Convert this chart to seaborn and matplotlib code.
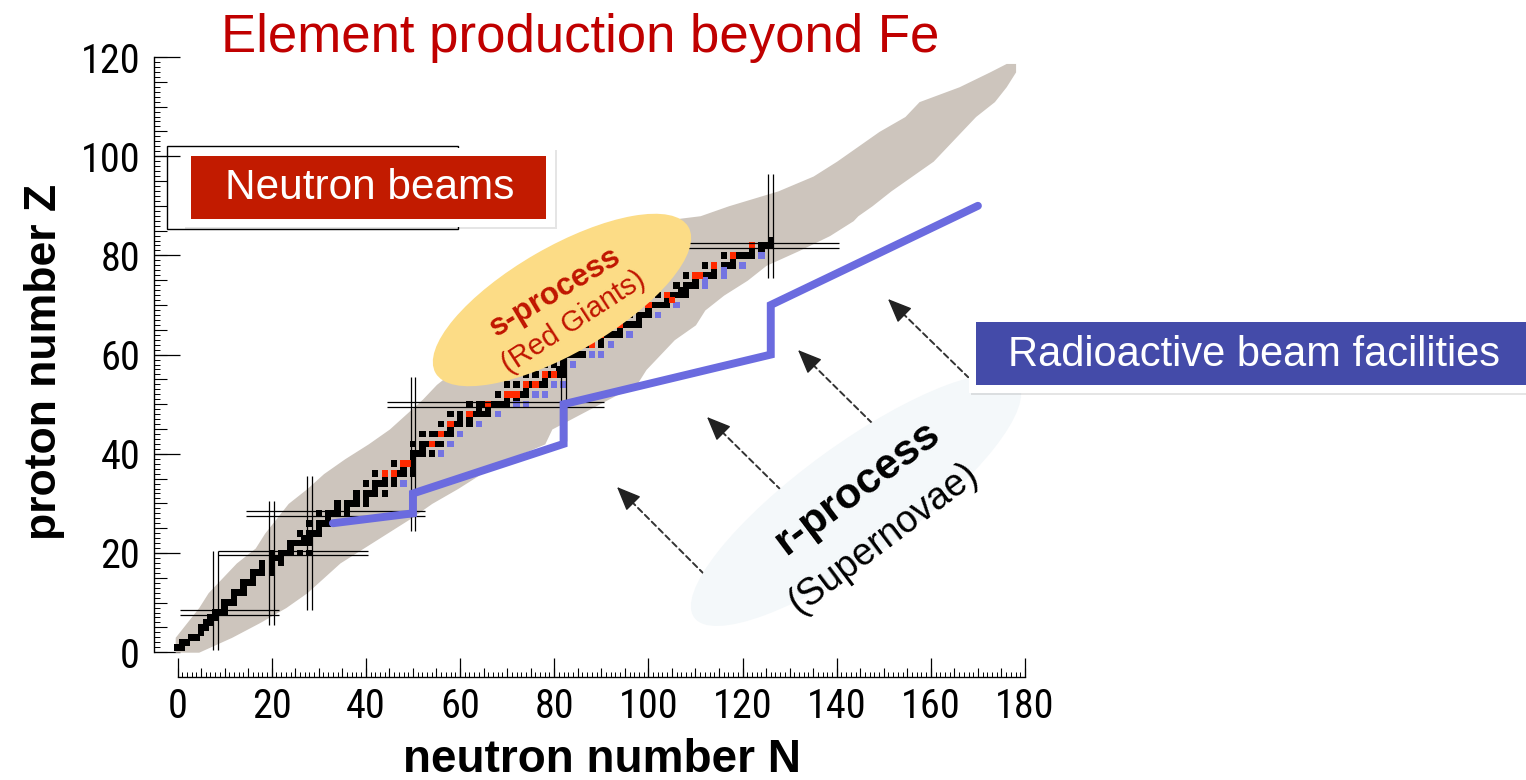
import numpy as np
import matplotlib
matplotlib.use("Agg")
import matplotlib.pyplot as plt
import seaborn as sns
from matplotlib import font_manager as fm
from matplotlib.patches import Rectangle, Ellipse
from matplotlib.transforms import Affine2D
from matplotlib.ticker import FixedLocator

# ---------------- data ----------------
BAND_Z = [0, 3, 6, 9, 12, 15, 18, 21, 24, 27, 30, 33, 36, 39, 42, 45, 48, 51, 54, 57,
          60, 63, 66, 69, 72, 75, 78, 81, 84, 87, 88, 90, 93, 96, 99, 102, 105, 108,
          111, 114, 117, 118.7]
BAND_N_MIN = [-0.5, -0.5, 2, 4.5, 6.5, 9.5, 12.5, 16.5, 18.5, 21, 23.5, 27.5, 31, 35.5,
              40.5, 45, 48.5, 52, 55, 59, 63, 67, 72, 77, 82, 87, 92, 97, 100, 102.5,
              111, 117, 127.5, 135, 140, 144.5, 149, 154.5, 157.5, 166, 172.5, 176]
BAND_N_MAX = [4.5, 11.5, 17.5, 23, 27.5, 31, 34.5, 39.5, 44.5, 49.5, 54, 59.5, 64.5, 70.5,
              78, 79.5, 85.5, 91.5, 97.5, 99.5, 102.5, 105.5, 110, 112, 116, 121, 125,
              132, 138.5, 143.5, 144.5, 147.5, 151.5, 156, 160.5, 163.5, 166.5, 169.5,
              173.5, 176, 178, 178]

STABLE = [
    (1, [0, 1]), (2, [1, 2]), (3, [3, 4]), (4, [5]), (5, [5, 6]), (6, [6, 7]), (7, [7, 8]),
    (8, [8, 9, 10]), (9, [10]), (10, [10, 11, 12]), (11, [12]), (12, [12, 13, 14]),
    (13, [14]), (14, [14, 15, 16]), (15, [16]), (16, [16, 17, 18, 20]), (17, [18, 20]),
    (18, [18, 20, 22]), (19, [20, 21, 22]), (20, [20, 22, 23, 24, 26, 28]), (21, [24]),
    (22, [24, 25, 26, 27, 28]), (23, [27, 28]), (24, [26, 28, 29, 30]), (25, [30]),
    (26, [28, 30, 31, 32]), (27, [32]), (28, [30, 32, 33, 34, 36]), (29, [34, 36]),
    (30, [34, 36, 37, 38, 40]), (31, [38, 40]), (32, [38, 40, 41, 42, 44]), (33, [42]),
    (34, [40, 42, 43, 44, 46, 48]), (35, [44, 46]), (36, [42, 44, 46, 47, 48, 50]),
    (37, [48, 50]), (38, [46, 48, 49, 50]), (39, [50]), (40, [50, 51, 52, 54, 56]),
    (41, [52]), (42, [50, 52, 53, 54, 55, 56, 58]), (44, [52, 54, 55, 56, 57, 58, 60]),
    (45, [58]), (46, [56, 58, 59, 60, 62, 64]), (47, [60, 62]),
    (48, [58, 60, 62, 63, 64, 65, 66, 68]), (49, [64, 66]),
    (50, [62, 64, 65, 66, 67, 68, 69, 70, 72, 74]), (51, [70, 72]),
    (52, [68, 70, 71, 72, 73, 74, 76, 78]), (53, [74]),
    (54, [70, 72, 74, 75, 76, 77, 78, 80, 82]), (55, [78]),
    (56, [74, 76, 78, 79, 80, 81, 82]), (57, [81, 82]), (58, [78, 80, 82, 84]), (59, [82]),
    (60, [82, 83, 84, 85, 86, 88, 90]), (62, [82, 85, 86, 87, 88, 90, 92]), (63, [88, 90]),
    (64, [88, 90, 91, 92, 93, 94, 96]), (65, [94]), (66, [90, 92, 94, 95, 96, 97, 98]),
    (67, [98]), (68, [94, 96, 98, 99, 100, 102]), (69, [100]),
    (70, [98, 100, 101, 102, 103, 104, 106]), (71, [104, 105]),
    (72, [102, 104, 105, 106, 107, 108]), (73, [107, 108]), (74, [106, 108, 109, 110, 112]),
    (75, [110, 112]), (76, [108, 110, 111, 112, 113, 114, 116]), (77, [114, 116]),
    (78, [112, 114, 116, 117, 118, 120]), (79, [118]),
    (80, [116, 118, 119, 120, 121, 122, 124]), (81, [122, 124]), (82, [122, 124, 125, 126]),
    (83, [126]),
]
S_ONLY = [(36, 44), (36, 46), (38, 48), (38, 49), (42, 54), (44, 56), (46, 58), (48, 62),
          (50, 66), (52, 70), (52, 71), (52, 72), (54, 74), (54, 76), (56, 78), (56, 80),
          (60, 82), (62, 86), (62, 88), (64, 90), (66, 94), (70, 100), (71, 105), (72, 104),
          (76, 110), (76, 111), (78, 114), (80, 118), (82, 122)]
R_ONLY = [(34, 48), (40, 56), (42, 58), (44, 60), (46, 64), (48, 68), (50, 72), (50, 74),
          (52, 76), (52, 78), (54, 80), (54, 82), (58, 84), (60, 88), (60, 90), (62, 92),
          (64, 96), (68, 102), (70, 106), (74, 112), (75, 112), (76, 116), (77, 116),
          (78, 120), (80, 124)]
MAGIC_N = [(8, 0.5, 20.5), (20, 5.5, 30.5), (28, 8.5, 35.5), (50, 24.5, 55.5),
           (82, 42.5, 72.5), (126, 75.5, 96.5)]
MAGIC_Z = [(8, 0.5, 21.5), (20, 8.5, 40.5), (28, 14.5, 52.5), (50, 44.5, 90.5),
           (82, 96.5, 140.5)]
R_PATH_N = [33, 50, 50, 82, 82, 126, 126, 170]
R_PATH_Z = [26, 28, 32, 42, 50, 60, 70, 90]

X_TICKS = list(range(0, 181, 20))
Y_TICKS = list(range(0, 121, 20))

TITLE = "Element production beyond Fe"
XLABEL = "neutron number N"
YLABEL = "proton number Z"

# ---------------- style ----------------
sns.set_style("white")


def pick_narrow():
    prefs = ["Liberation Sans Narrow", "Arial Narrow", "Roboto Condensed",
             "Open Sans Condensed", "Noto Sans Condensed", "DejaVu Sans Condensed"]
    names = {f.name for f in fm.fontManager.ttflist}
    for p in prefs:
        if p in names:
            return p, "normal"
    for f in fm.fontManager.ttflist:
        if f.stretch in ("condensed", "semi-condensed", "extra-condensed") and f.style == "normal" \
                and f.weight in (400, "normal", "regular"):
            return f.name, f.stretch
    return None, None


NARROW, NSTRETCH = pick_narrow()
SANS = "Liberation Sans"
plt.rcParams["font.family"] = [NARROW or SANS, "DejaVu Sans"]
if NSTRETCH:
    plt.rcParams["font.stretch"] = NSTRETCH
plt.rcParams["text.color"] = "black"
plt.rcParams["axes.labelcolor"] = "black"

W, H = 1526, 780
fig = plt.figure(figsize=(W / 100, H / 100), dpi=100)
fig.patch.set_facecolor("white")
PX = Affine2D().scale(1.0 / W, -1.0 / H).translate(0, 1) + fig.transFigure

ax = fig.add_axes([154 / W, 1 - 677 / H, (1025 - 154) / W, (677 - 57) / H])
ax.set_facecolor("none")
ax.set_xlim(-5, 180)
ax.set_ylim(-5, 120)

GRAY = "#CDC5BD"
RED = "#FF2A00"
BLUE = "#7474E2"
PATH_BLUE = "#6B6BDF"

ax.fill_betweenx(BAND_Z, BAND_N_MIN, BAND_N_MAX, color=GRAY, lw=0, zorder=1)

s_set = set(S_ONLY)
r_set = set(R_ONLY)
st_z, st_n = [], []
for z, ns in STABLE:
    for n in ns:
        if (z, n) not in s_set and (z, n) not in r_set:
            st_z.append(z)
            st_n.append(n)

SQ = 1.35


def squares(zs, ns, color):
    ax.bar(ns, SQ, width=SQ, bottom=np.asarray(zs, float) - SQ / 2, color=color,
           linewidth=0, zorder=2)


squares(st_z, st_n, "black")
squares([z for z, n in R_ONLY], [n for z, n in R_ONLY], BLUE)
squares([z for z, n in S_ONLY], [n for z, n in S_ONLY], RED)

for n, z0, z1 in MAGIC_N:
    ax.vlines([n - 0.5, n + 0.5], z0, z1, color="black", lw=0.9, zorder=3)
for z, n0, n1 in MAGIC_Z:
    ax.hlines([z - 0.5, z + 0.5], n0, n1, color="black", lw=0.9, zorder=3)

sns.lineplot(x=R_PATH_N, y=R_PATH_Z, sort=False, estimator=None, color=PATH_BLUE,
             lw=5.7, ax=ax, zorder=4, solid_joinstyle="miter")

for s in ["top", "right"]:
    ax.spines[s].set_visible(False)
ax.spines["left"].set_bounds(0, 120)
ax.spines["bottom"].set_bounds(0, 180)
for s in ["left", "bottom"]:
    ax.spines[s].set_linewidth(1.0)
    ax.spines[s].set_color("black")

ax.xaxis.set_major_locator(FixedLocator(X_TICKS))
ax.xaxis.set_minor_locator(FixedLocator(np.arange(0, 181, 1)))
ax.yaxis.set_major_locator(FixedLocator(Y_TICKS))
ax.yaxis.set_minor_locator(FixedLocator(np.arange(0, 121, 1)))
ax.tick_params(axis="x", which="both", bottom=True, top=False, direction="in",
               color="black")
ax.tick_params(axis="y", which="both", left=True, right=False, direction="in",
               color="black")
ax.tick_params(axis="x", which="major", length=13.7, width=0.9, pad=7, labelsize=29,
               labelcolor="black")
ax.tick_params(axis="x", which="minor", length=3.4, width=0.7)
ax.tick_params(axis="y", which="major", length=18.7, width=0.9, pad=10, labelsize=29,
               labelcolor="black")
ax.tick_params(axis="y", which="minor", length=4.3, width=0.7)

secx = ax.secondary_xaxis(0)
secx.xaxis.set_major_locator(FixedLocator(np.arange(0, 181, 5)))
secx.tick_params(axis="x", which="major", bottom=True, direction="in", length=6.5,
                 width=0.8, labelbottom=False, color="black")
secx.spines["bottom"].set_visible(False)
secy = ax.secondary_yaxis(0)
secy.yaxis.set_major_locator(FixedLocator(np.arange(0, 121, 5)))
secy.tick_params(axis="y", which="major", left=True, direction="in", length=9,
                 width=0.8, labelleft=False, color="black")
secy.spines["left"].set_visible(False)

ax.set_xlabel(XLABEL, fontsize=33, fontweight="bold", family=SANS, fontstretch="normal",
              va="center", color="black")
ax.xaxis.set_label_coords((602 - 154) / 871, (677 - 760) / 620)
ax.set_ylabel(YLABEL, fontsize=32, fontweight="bold", family=SANS, fontstretch="normal",
              va="center", color="black")
ax.yaxis.set_label_coords((45 - 154) / 871, (677 - 362) / 620)

TXT = dict(transform=PX, family=SANS, fontstretch="normal")

fig.text(580, 52, TITLE, ha="center", va="baseline", fontsize=38, color="#C00000", **TXT)

fig.add_artist(Rectangle((167, 146), 291, 83, transform=PX, fill=False, ec="black",
                         lw=1.0, zorder=5))

fig.add_artist(Rectangle((185, 150), 372, 79, transform=PX, fc=(0, 0, 0, 0.10), lw=0,
                         zorder=6))
fig.add_artist(Rectangle((183, 148), 372, 79, transform=PX, fc="white", lw=0, zorder=6))
fig.add_artist(Rectangle((191, 156), 355, 63, transform=PX, fc="#C21B00", lw=0, zorder=7))
fig.text(370, 188, "Neutron beams", ha="center", va="center", fontsize=30.5,
         color="white", zorder=8, **TXT)

fig.add_artist(Ellipse((562, 300), 292, 106, angle=-30, transform=PX, fc="#FCDC86",
                       lw=0, zorder=6))
fig.text(555, 292, "s-process", ha="center", va="center", rotation=31,
         rotation_mode="anchor", fontsize=22.5, fontweight="bold", color="#C01500",
         zorder=7, **TXT)
fig.text(574, 322, "(Red Giants)", ha="center", va="center", rotation=33,
         rotation_mode="anchor", fontsize=21, color="#C01500", zorder=7, **TXT)

fig.add_artist(Ellipse((856, 500), 400, 112, angle=-36, transform=PX, fc="#F4F8FA",
                       lw=0, zorder=5))
fig.text(857, 488, "r-process", ha="center", va="center", rotation=37,
         rotation_mode="anchor", fontsize=31, fontweight="bold", color="black",
         zorder=7, **TXT)
fig.text(884, 538, "(Supernovae)", ha="center", va="center", rotation=37,
         rotation_mode="anchor", fontsize=27, color="black", zorder=7, **TXT)

# dashed arrows with solid heads
ARROWS = [((704, 574), (617, 487)), ((781, 490), (707, 417)),
          ((872, 423), (798, 350)), ((969, 378), (888, 299))]
for tail, tip in ARROWS:
    tx, ty = tail
    hx, hy = tip
    d = np.hypot(tx - hx, ty - hy)
    ux, uy = (tx - hx) / d, (ty - hy) / d
    back = (hx + ux * 22, hy + uy * 22)
    ax.annotate("", xy=back, xytext=tail, xycoords=PX, textcoords=PX,
                annotation_clip=False, zorder=8,
                arrowprops=dict(arrowstyle="-", lw=1.4, ls=(0, (3, 2)),
                                color="#333333", shrinkA=0, shrinkB=0))
    ax.annotate("", xy=tip, xytext=back, xycoords=PX, textcoords=PX,
                annotation_clip=False, zorder=8,
                arrowprops=dict(arrowstyle="-|>,head_length=1.0,head_width=0.42",
                                mutation_scale=15, lw=1.0, color="#222222",
                                shrinkA=0, shrinkB=0))

fig.add_artist(Rectangle((971, 317), 560, 78, transform=PX, fc=(0, 0, 0, 0.10), lw=0,
                         zorder=8))
fig.add_artist(Rectangle((969, 315), 560, 78, transform=PX, fc="white", lw=0, zorder=8))
fig.add_artist(Rectangle((976, 322), 560, 63, transform=PX, fc="#444BA9", lw=0, zorder=9))
fig.text(1254, 355, "Radioactive beam facilities", ha="center", va="center",
         fontsize=30, color="white", zorder=10, **TXT)

fig.savefig("out.png", dpi=100, facecolor="white")
